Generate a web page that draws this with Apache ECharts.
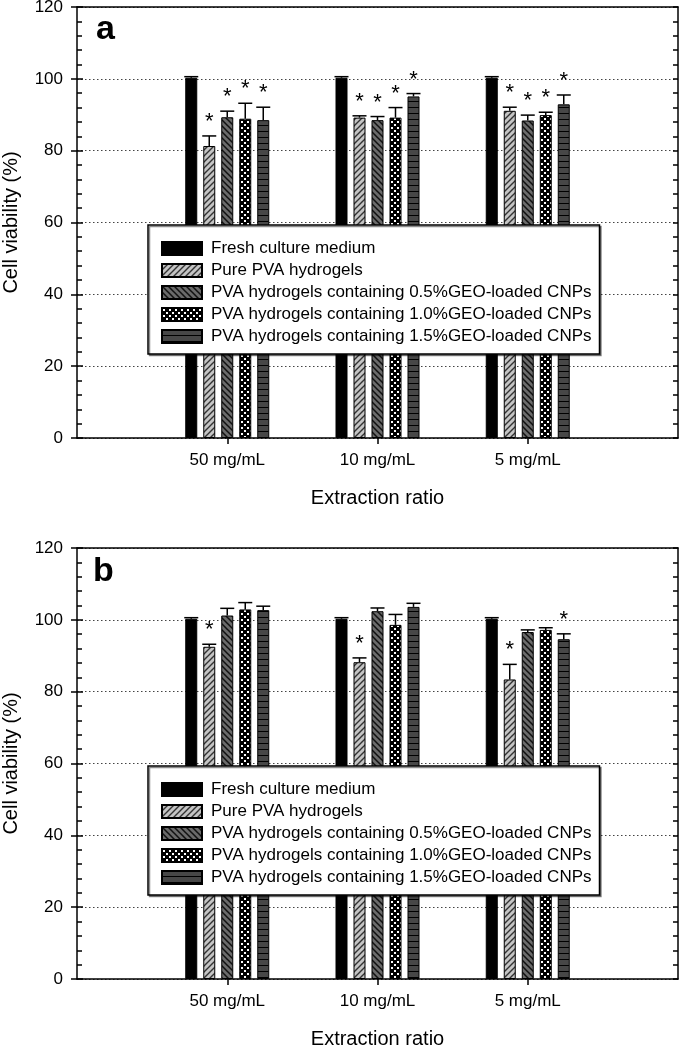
<!DOCTYPE html>
<html><head><meta charset="utf-8">
<script src="https://cdn.jsdelivr.net/npm/echarts@6/dist/echarts.min.js"></script>
<style>html,body{margin:0;padding:0;background:#fff}#c{width:685px;height:1046px}</style>
</head><body><div id="c"></div><script>
// ---------- data ----------
const categories = ['50 mg/mL', '10 mg/mL', '5 mg/mL'];
const seriesNames = [
  'Fresh culture medium',
  'Pure PVA hydrogels',
  'PVA hydrogels containing 0.5%GEO-loaded CNPs',
  'PVA hydrogels containing 1.0%GEO-loaded CNPs',
  'PVA hydrogels containing 1.5%GEO-loaded CNPs'
];
const yTickValues = [0, 20, 40, 60, 80, 100, 120];
const xTitle = 'Extraction ratio';
const yTitle = 'Cell viability (%)';
const panelLabels = ['a', 'b'];

// Panel a: means, errors, significance flags
const aFresh = [100.3, 100.3, 100.3];
const aFreshErr = [0.3, 0.3, 0.3];
const aFreshSig = [0, 0, 0];
const aPure = [81.3, 89.2, 91.1];
const aPureErr = [2.8, 0.5, 1.0];
const aPureSig = [1, 1, 1];
const a05 = [89.3, 88.5, 88.4];
const a05Err = [1.7, 1.0, 1.5];
const a05Sig = [1, 1, 1];
const a10 = [88.9, 89.2, 89.9];
const a10Err = [4.3, 2.8, 0.8];
const a10Sig = [1, 1, 1];
const a15 = [88.5, 95.1, 92.9];
const a15Err = [3.6, 0.8, 2.6];
const a15Sig = [1, 1, 1];

// Panel b
const bFresh = [100.3, 100.3, 100.3];
const bFreshErr = [0.3, 0.3, 0.3];
const bFreshSig = [0, 0, 0];
const bPure = [92.5, 88.2, 83.4];
const bPureErr = [0.7, 1.2, 4.2];
const bPureSig = [1, 1, 1];
const b05 = [101.2, 102.4, 96.6];
const b05Err = [2.0, 0.9, 0.6];
const b05Sig = [0, 0, 0];
const b10 = [102.9, 98.6, 97.2];
const b10Err = [1.9, 2.9, 0.6];
const b10Sig = [0, 0, 0];
const b15 = [102.7, 103.6, 94.6];
const b15Err = [1.1, 1.0, 1.5];
const b15Sig = [0, 0, 1];

const panels = [
  { means: [aFresh, aPure, a05, a10, a15], errs: [aFreshErr, aPureErr, a05Err, a10Err, a15Err], sigs: [aFreshSig, aPureSig, a05Sig, a10Sig, a15Sig] },
  { means: [bFresh, bPure, b05, b10, b15], errs: [bFreshErr, bPureErr, b05Err, b10Err, b15Err], sigs: [bFreshSig, bPureSig, b05Sig, b10Sig, b15Sig] }
];

// ---------- patterns ----------
function tile(w, h, draw) {
  const c = document.createElement('canvas');
  c.width = w; c.height = h;
  const g = c.getContext('2d');
  draw(g, w, h);
  return { image: c, repeat: 'repeat' };
}
const fills = [
  '#000',
  tile(6, 6, (g, w, h) => {
    g.fillStyle = '#c4c4c4'; g.fillRect(0, 0, w, h);
    g.strokeStyle = '#333'; g.lineWidth = 1.4;
    g.beginPath(); g.moveTo(-1, h + 1); g.lineTo(w + 1, -1);
    g.moveTo(-1, 1); g.lineTo(1, -1);
    g.moveTo(w - 1, h + 1); g.lineTo(w + 1, h - 1); g.stroke();
  }),
  tile(6, 6, (g, w, h) => {
    g.fillStyle = '#6a6a6a'; g.fillRect(0, 0, w, h);
    g.strokeStyle = '#111'; g.lineWidth = 1.5;
    g.beginPath(); g.moveTo(-1, -1); g.lineTo(w + 1, h + 1);
    g.moveTo(w - 1, -1); g.lineTo(w + 1, 1);
    g.moveTo(-1, h - 1); g.lineTo(1, h + 1); g.stroke();
  }),
  tile(6, 6, (g, w, h) => {
    g.fillStyle = '#000'; g.fillRect(0, 0, w, h);
    g.fillStyle = '#fff';
    g.fillRect(1, 1, 2, 2); g.fillRect(4, 4, 2, 2);
  }),
  tile(6, 6, (g, w, h) => {
    g.fillStyle = '#474747'; g.fillRect(0, 0, w, h);
    g.fillStyle = '#000'; g.fillRect(0, 5, w, 1);
  })
];

// ---------- layout ----------
const FONT = '"Liberation Sans", Arial, Helvetica, sans-serif';
const gridTops = [7, 548];
const gridH = 431;
const BAR_W = 12;
const BAR_GAP = 0.5;
const STEP = BAR_W * (1 + BAR_GAP);

const grids = [], xAxes = [], yAxes = [], series = [], legends = [], graphics = [];

panels.forEach((p, gi) => {
  grids.push({ left: 77, right: 7, top: gridTops[gi], height: gridH, containLabel: false, outerBoundsMode: 'none' });
  const xBase = xAxes.length;
  xAxes.push({
    type: 'value', gridIndex: gi, position: 'bottom', min: 0, max: 4, interval: 1,
    name: xTitle, nameLocation: 'middle', nameGap: 50,
    nameTextStyle: { fontSize: 20, color: '#000', fontFamily: FONT },
    axisLine: { show: true, onZero: false, lineStyle: { color: '#000', width: 1.5 } },
    axisTick: { show: true, length: 6, customValues: [1, 2, 3], lineStyle: { color: '#000', width: 1.5 } },
    axisLabel: { show: true, margin: 14, customValues: [1, 2, 3], fontSize: 17, color: '#000', fontFamily: FONT,
      formatter: v => categories[Math.round(v) - 1] || '' },
    splitLine: { show: false }
  });
  xAxes.push({
    type: 'value', gridIndex: gi, position: 'top', min: 0, max: 4,
    axisLine: { show: true, onZero: false, lineStyle: { color: '#000', width: 1.5 } },
    axisTick: { show: false }, axisLabel: { show: false }, splitLine: { show: false }
  });
  const yBase = yAxes.length;
  const common = { type: 'value', gridIndex: gi, min: 0, max: 120, interval: 20 };
  // left, inside ticks + minor + grid lines
  yAxes.push(Object.assign({}, common, {
    position: 'left',
    name: yTitle, nameLocation: 'middle', nameGap: 56, nameRotate: 90,
    nameTextStyle: { fontSize: 20, color: '#000', fontFamily: FONT },
    axisLine: { show: true, onZero: false, lineStyle: { color: '#000', width: 1.5 } },
    axisTick: { show: true, inside: true, length: 5, lineStyle: { color: '#000', width: 1.5 } },
    minorTick: { show: true, splitNumber: 5, length: 5, lineStyle: { color: '#000', width: 1.5 } },
    axisLabel: { show: false },
    splitLine: { show: true, lineStyle: { color: '#444', width: 1, type: [1.5, 2.5] } }
  }));
  // left, outside ticks + labels
  yAxes.push(Object.assign({}, common, {
    position: 'left', offset: 0,
    axisLine: { show: false },
    axisTick: { show: true, inside: false, length: 6, lineStyle: { color: '#000', width: 1.5 } },
    axisLabel: { show: true, margin: 14, fontSize: 17, color: '#000', fontFamily: FONT,
      customValues: yTickValues },
    splitLine: { show: false }
  }));
  // right, inside ticks + minor
  yAxes.push(Object.assign({}, common, {
    position: 'right', offset: 0,
    axisLine: { show: true, onZero: false, lineStyle: { color: '#000', width: 1.5 } },
    axisTick: { show: true, inside: true, length: 5, lineStyle: { color: '#000', width: 1.5 } },
    minorTick: { show: true, splitNumber: 5, length: 5, lineStyle: { color: '#000', width: 1.5 } },
    axisLabel: { show: false }, splitLine: { show: false }
  }));
  // right, outside ticks
  yAxes.push(Object.assign({}, common, {
    position: 'right', offset: 0,
    axisLine: { show: false },
    axisTick: { show: true, inside: false, length: 6, lineStyle: { color: '#000', width: 1.5 } },
    axisLabel: { show: false }, splitLine: { show: false }
  }));

  p.means.forEach((vals, si) => {
    series.push({
      type: 'bar', name: seriesNames[si], xAxisIndex: xBase, yAxisIndex: yBase,
      barWidth: BAR_W, barGap: (BAR_GAP * 100) + '%',
      itemStyle: { color: fills[si], borderColor: '#000', borderWidth: 1 },
      emphasis: { disabled: true },
      data: vals.map((v, ci) => [ci + 1, v]),
      z: 2
    });
  });
  p.means.forEach((vals, si) => {
    const offset = (si - 2) * STEP;
    series.push({
      type: 'custom', name: seriesNames[si] + ' err', xAxisIndex: xBase, yAxisIndex: yBase,
      silent: true, z: 5,
      encode: { x: 0, y: 1 },
      data: vals.map((v, ci) => [ci + 1, v, p.errs[si][ci], p.sigs[si][ci]]),
      renderItem: (params, api) => {
        const x = api.value(0), m = api.value(1), e = api.value(2), s = api.value(3);
        const b = api.coord([x, m]);
        const t = api.coord([x, m + e]);
        const cx = b[0] + offset;
        const half = 7;
        const children = [
          { type: 'line', shape: { x1: cx, y1: b[1], x2: cx, y2: t[1] }, style: { stroke: '#000', lineWidth: 1.5 } },
          { type: 'line', shape: { x1: cx - half, y1: t[1], x2: cx + half, y2: t[1] }, style: { stroke: '#000', lineWidth: 1.5 } }
        ];
        if (s) {
          children.push({ type: 'text', x: cx, y: t[1] - 14,
            style: { text: '*', fontSize: 22, fontFamily: FONT, fill: '#000', align: 'center', verticalAlign: 'middle' } });
        }
        return { type: 'group', children };
      }
    });
  });

  legends.push({
    orient: 'vertical', left: 148, top: gridTops[gi] + 218,
    itemWidth: 40, itemHeight: 13, itemGap: 5, icon: 'rect',
    backgroundColor: '#fff', borderColor: '#000', borderWidth: 1.5,
    shadowColor: 'rgba(0,0,0,0.45)', shadowOffsetX: 1.5, shadowOffsetY: 1.5, shadowBlur: 0,
    padding: [15, 8, 9, 13], selectedMode: false,
    textStyle: { fontSize: 17, color: '#000', fontFamily: FONT, padding: [0, 0, 0, 4] },
    data: seriesNames
  });

  graphics.push({
    type: 'text', left: gi === 0 ? 96 : 93, top: gridTops[gi] + (gi === 0 ? 6 : 7),
    style: { text: panelLabels[gi], fontSize: 34, fontWeight: 'bold', fontFamily: FONT, fill: '#000' }
  });
});

const chart = echarts.init(document.getElementById('c'), null, { renderer: 'canvas' });
chart.setOption({
  animation: false,
  backgroundColor: '#fff',
  textStyle: { fontFamily: FONT },
  grid: grids, xAxis: xAxes, yAxis: yAxes, series, legend: legends, graphic: graphics
});
</script></body></html>
